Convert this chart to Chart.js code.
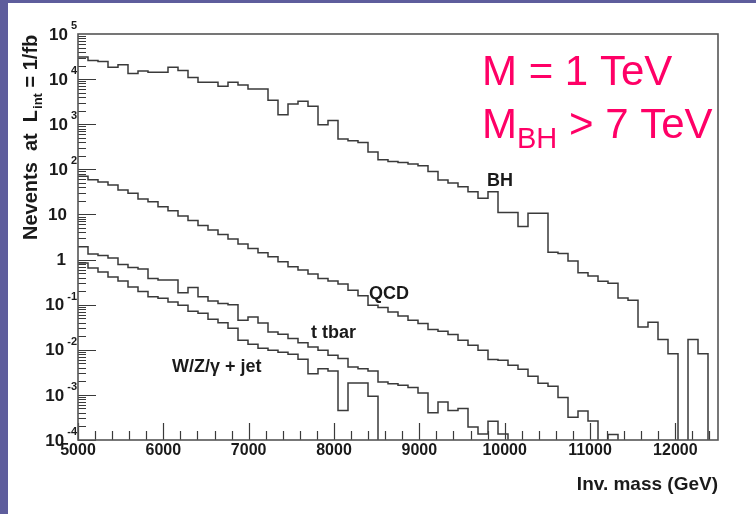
<!DOCTYPE html>
<html>
<head>
<meta charset="utf-8">
<script src="https://cdn.jsdelivr.net/npm/chart.js@4.4.1/dist/chart.umd.min.js"></script>
<style>
  html, body { margin: 0; padding: 0; }
  body { width: 756px; height: 514px; overflow: hidden; background: #5e5d9c; position: relative; }
  #sheet { position: absolute; left: 8px; top: 3px; right: 0; bottom: 0; background: #fff; }
  #c { position: absolute; left: 0; top: 0; }
</style>
</head>
<body>
<div id="sheet"></div>
<canvas id="c" width="756" height="514"></canvas>
<script>
// histogram range (GeV) and binning
const xMin = 5000;
const xMax = 12500;
const nBins = 64;
const yMin = 1e-4;
const yMax = 1e5;

// events per bin (0 = empty bin)
const bhCounts = [31100, 25800, 24500, 18300, 20700, 13300, 15200, 14200, 14200, 18300,
  15500, 10800, 8490, 8490, 6920, 8490, 7360, 6060, 6060, 3380,
  1630, 2810, 3210, 2490, 975, 1210, 469, 430, 394, 241,
  163, 149, 142, 131, 120, 89, 58, 50, 41, 32,
  23, 32, 11, 11, 5.4, 10.6, 10.6, 1.45, 1.37, 0.93,
  0.51, 0.43, 0.33, 0.30, 0.14, 0.126, 0.032, 0.041, 0.017, 0.0082,
  0, 0.017, 0.0082, 0];

const qcdCounts = [70, 58.4, 52.7, 45.2, 35.0, 29.6, 22.1, 19.0, 14.9, 12.0,
  9.26, 7.36, 5.70, 4.53, 3.59, 2.86, 2.21, 1.75, 1.42, 1.15,
  0.893, 0.692, 0.585, 0.476, 0.378, 0.333, 0.286, 0.210, 0.158, 0.0975,
  0.0867, 0.0692, 0.0564, 0.0453, 0.0382, 0.0281, 0.0258, 0.0218, 0.0163, 0.0126,
  0.00975, 0.00605, 0.00585, 0.00453, 0.00369, 0.00258, 0.00180, 0.00155, 0.00088, 0.000321,
  0.000441, 0.000264, 0, 0.000132, 0, 0, 0, 0, 0, 0,
  0, 0, 0, 0];

const ttbarCounts = [1.92, 1.32, 1.23, 1.08, 0.774, 0.664, 0.615, 0.382, 0.350, 0.350,
  0.183, 0.241, 0.149, 0.121, 0.106, 0.100, 0.0453, 0.0536, 0.0394, 0.0249,
  0.0221, 0.0177, 0.0143, 0.0115, 0.00975, 0.00755, 0.00637, 0.00415, 0.00382, 0.00338,
  0.00192, 0.00177, 0.00163, 0.00145, 0.00110, 0.000402, 0.000692, 0.000453, 0.000501, 0.000195,
  0.000136, 0.000262, 0.000136, 0, 0, 0, 0, 0, 0, 0,
  0, 0, 0, 0, 0, 0, 0, 0, 0, 0,
  0, 0, 0, 0];

const wzjetCounts = [0.836, 0.647, 0.527, 0.408, 0.333, 0.245, 0.195, 0.149, 0.139, 0.114,
  0.0975, 0.0718, 0.0647, 0.0476, 0.0398, 0.0301, 0.0163, 0.0132, 0.0108, 0.00975,
  0.00880, 0.00794, 0.00615, 0.00296, 0.00382, 0.00338, 0.000453, 0.00183, 0.00183, 0.000927,
  0, 0, 0, 0, 0, 0, 0, 0, 0, 0,
  0, 0, 0, 0, 0, 0, 0, 0, 0, 0,
  0, 0, 0, 0, 0, 0, 0, 0, 0, 0,
  0, 0, 0, 0];

// axis ticks
const xTickLabels = ['5000', '6000', '7000', '8000', '9000', '10000', '11000', '12000'];
const yTickExponents = [-4, -3, -2, -1, 0, 1, 2, 3, 4, 5];

const binWidth = (xMax - xMin) / nBins;
const FONT = '"Liberation Sans", Arial, Helvetica, sans-serif';

// empty bins go below the axis so the step drops to the bottom edge (clipped)
function histPoints(counts) {
    const floor = yMin / 100;
    const pts = counts.map((v, i) => ({ x: xMin + i * binWidth, y: v > 0 ? v : floor }));
    pts.push({ x: xMax, y: floor });
    return pts;
}

function histDataset(counts) {
    return {
        data: histPoints(counts),
        stepped: 'before',
        borderColor: '#3a3a3a',
        borderWidth: 1.5,
        pointRadius: 0,
        fill: false,
        clip: 0
    };
}

// ROOT style frame, inward ticks, labels and texts
const rootFrame = {
    id: 'rootFrame',
    afterDraw(chart) {
        const { ctx, chartArea: a, scales: { x, y } } = chart;
        ctx.save();

        // ticks
        ctx.strokeStyle = '#3a3a3a';
        ctx.lineWidth = 1.2;
        ctx.beginPath();
        for (let v = xMin; v < xMax; v += 200) {
            const px = Math.round(x.getPixelForValue(v)) + 0.5;
            const len = v % 1000 === 0 ? 17 : 9;
            ctx.moveTo(px, a.bottom);
            ctx.lineTo(px, a.bottom - len);
        }
        yTickExponents.forEach(e => {
            if (e === yTickExponents[yTickExponents.length - 1]) return;
            for (let m = 1; m <= 9; m++) {
                const py = Math.round(y.getPixelForValue(m * Math.pow(10, e))) + 0.5;
                const len = m === 1 ? 18 : 8;
                ctx.moveTo(a.left, py);
                ctx.lineTo(a.left + len, py);
            }
        });
        ctx.stroke();

        // frame
        ctx.strokeStyle = '#555';
        ctx.lineWidth = 1.6;
        ctx.strokeRect(a.left, a.top, a.right - a.left, a.bottom - a.top);

        // x labels
        ctx.fillStyle = '#1a1a1a';
        ctx.font = 'bold 16px ' + FONT;
        ctx.textAlign = 'center';
        ctx.textBaseline = 'middle';
        xTickLabels.forEach(t => {
            ctx.fillText(t, x.getPixelForValue(Number(t)), a.bottom + 11);
        });

        // y labels: 10 with exponent
        yTickExponents.forEach(e => {
            const py = y.getPixelForValue(Math.pow(10, e));
            ctx.textBaseline = 'middle';
            ctx.textAlign = 'right';
            ctx.font = 'bold 17px ' + FONT;
            if (e === 0) { ctx.fillText('1', 66, py + 1); return; }
            if (e === 1) { ctx.fillText('10', 67, py + 1); return; }
            ctx.font = 'bold 11px ' + FONT;
            const es = String(e);
            const ew = ctx.measureText(es).width;
            ctx.textBaseline = 'alphabetic';
            ctx.fillText(es, 77, py - 5);
            ctx.font = 'bold 17px ' + FONT;
            ctx.textBaseline = 'middle';
            ctx.fillText('10', 77 - ew - 3, py + 1);
        });

        // axis titles
        ctx.textBaseline = 'alphabetic';
        ctx.textAlign = 'right';
        ctx.font = 'bold 19px ' + FONT;
        ctx.fillText('Inv. mass (GeV)', a.right, 490);

        ctx.save();
        ctx.translate(37, 240);
        ctx.rotate(-Math.PI / 2);
        ctx.textAlign = 'left';
        let cx = 0;
        ctx.font = 'bold 20px ' + FONT;
        ctx.fillText('Nevents  at  L', cx, 0);
        cx += ctx.measureText('Nevents  at  L').width;
        ctx.font = 'bold 13px ' + FONT;
        ctx.fillText('int', cx + 1, 5);
        cx += ctx.measureText('int').width + 1;
        ctx.font = 'bold 20px ' + FONT;
        ctx.fillText(' = 1/fb', cx, 0);
        ctx.restore();

        // curve labels
        ctx.textAlign = 'left';
        ctx.font = 'bold 18px ' + FONT;
        ctx.fillText('BH', 487, 186);
        ctx.fillText('QCD', 369, 299);
        ctx.fillText('t tbar', 311, 338);
        ctx.fillText('W/Z/\u03b3 + jet', 172, 372);

        // model parameters
        ctx.fillStyle = '#ff0066';
        ctx.font = '42px ' + FONT;
        ctx.fillText('M = 1 TeV', 482, 85);
        ctx.fillText('M', 482, 138);
        let mx = 482 + ctx.measureText('M').width;
        ctx.font = '29px ' + FONT;
        ctx.fillText('BH', mx, 148);
        mx += ctx.measureText('BH').width;
        ctx.font = '42px ' + FONT;
        ctx.fillText(' > 7 TeV', mx, 138);

        ctx.restore();
    }
};

new Chart(document.getElementById('c'), {
    type: 'line',
    data: {
        datasets: [
            histDataset(bhCounts),
            histDataset(qcdCounts),
            histDataset(ttbarCounts),
            histDataset(wzjetCounts)
        ]
    },
    options: {
        responsive: false,
        animation: false,
        devicePixelRatio: 1,
        layout: { padding: { left: 78, top: 34, right: 38, bottom: 74 } },
        plugins: { legend: { display: false }, tooltip: { enabled: false } },
        scales: {
            x: { type: 'linear', min: xMin, max: xMax, display: false },
            y: { type: 'logarithmic', min: yMin, max: yMax, display: false }
        }
    },
    plugins: [rootFrame]
});
</script>
</body>
</html>
